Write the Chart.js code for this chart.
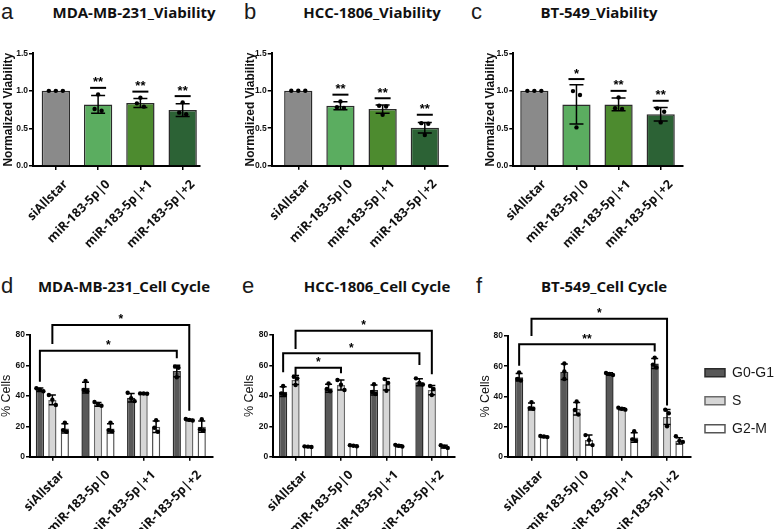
<!DOCTYPE html>
<html lang="en">
<head>
<meta charset="UTF-8">
<title>miR-183-5p isomiRs: viability and cell cycle</title>
<script src="https://cdn.jsdelivr.net/npm/chart.js"></script>
<style>
  body { margin: 0; background: #fff; width: 780px; height: 529px; position: relative; overflow: hidden; font-family: "Liberation Sans", Arial, sans-serif; }
  canvas { position: absolute; }
  .letter { position: absolute; font-size: 22px; line-height: 22px; color: #1a1a1a; }
  .title { position: absolute; font-family: "Open Sans", sans-serif; font-weight: 700; font-size: 15px; line-height: 15px; transform: translateX(-50%); white-space: nowrap; color: #111; }
</style>
</head>
<body>
<div class="letter" style="left:1px;top:1px">a</div>
<div class="letter" style="left:244px;top:1px">b</div>
<div class="letter" style="left:471px;top:1px">c</div>
<div class="letter" style="left:1px;top:275px">d</div>
<div class="letter" style="left:242px;top:275px">e</div>
<div class="letter" style="left:476px;top:275px">f</div>
<div class="title" style="left:134px;top:5px">MDA-MB-231_Viability</div>
<div class="title" style="left:372px;top:5px">HCC-1806_Viability</div>
<div class="title" style="left:599px;top:5px">BT-549_Viability</div>
<div class="title" style="left:124px;top:279px">MDA-MB-231_Cell Cycle</div>
<div class="title" style="left:377px;top:279px">HCC-1806_Cell Cycle</div>
<div class="title" style="left:604px;top:279px">BT-549_Cell Cycle</div>

<canvas id="mdaViab" width="245" height="262" style="left:0;top:0"></canvas>
<canvas id="hccViab" width="237" height="262" style="left:238px;top:0"></canvas>
<canvas id="btViab" width="222" height="262" style="left:478px;top:0"></canvas>
<canvas id="mdaCycle" width="240" height="267" style="left:0;top:262px"></canvas>
<canvas id="hccCycle" width="237" height="267" style="left:238px;top:262px"></canvas>
<canvas id="btCycle" width="310" height="267" style="left:475px;top:262px"></canvas>

<script>
const groups = ['siAllstar', 'miR-183-5p|0', 'miR-183-5p|+1', 'miR-183-5p|+2'];
const phases = ['G0-G1', 'S', 'G2-M'];

// viability: mean, SD, replicates, significance vs siAllstar
const mdaViab = [1.0, 0.82, 0.84, 0.745];
const mdaViabSd = [0, 0.117, 0.06, 0.085];
const mdaViabPts = [[1, 1, 1], [0.953, 0.758, 0.736], [0.91, 0.834, 0.79], [0.847, 0.71, 0.69]];
const mdaViabSig = ['', '**', '**', '**'];
const mdaViabSigY = [null, 1.04, 0.99, 0.93];

const hccViab = [1.0, 0.80, 0.756, 0.505];
const hccViabSd = [0, 0.055, 0.055, 0.07];
const hccViabPts = [[1, 1, 1], [0.858, 0.78, 0.77], [0.80, 0.79, 0.68], [0.568, 0.56, 0.41]];
const hccViabSig = ['', '**', '**', '**'];
const hccViabSigY = [null, 0.948, 0.90, 0.68];

const btViab = [1.0, 0.82, 0.82, 0.69];
const btViabSd = [0, 0.26, 0.085, 0.09];
const btViabPts = [[1, 1, 1], [0.997, 0.944, 0.514], [0.913, 0.77, 0.758], [0.767, 0.722, 0.58]];
const btViabSig = ['', '*', '**', '**'];
const btViabSigY = [null, 1.157, 1.0, 0.868];

// cell cycle (% cells): mean, SD, replicates per phase
const mdaG0 = [44, 45.4, 38.8, 56.3];
const mdaG0Sd = [1.2, 3.6, 2.8, 3.8];
const mdaG0Pts = [[45, 44, 43], [49.8, 43.8, 43.0], [42, 38.5, 36.5], [59.2, 58.5, 52.2]];
const mdaS = [37.3, 34.4, 41.5, 24.2];
const mdaSSd = [3.2, 1.3, 0.3, 0.5];
const mdaSPts = [[40.6, 37.5, 34], [36, 34.6, 33.5], [41.4, 41.6, 41.5], [24.8, 24.2, 23.8]];
const mdaG2 = [18.6, 18.6, 19.7, 19.7];
const mdaG2Sd = [3, 3, 3.8, 3.7];
const mdaG2Pts = [[22.4, 17.5, 16.4], [22.4, 17.5, 16.8], [24, 19, 16.4], [24.6, 18, 17.5]];
const mdaBrackets = [
  { from: [0, 0], to: [3, 0], y: 69.7, yFrom: 49.3, yTo: 64.7, label: '*' },
  { from: [0, 1], to: [3, 1], y: 86.6, yFrom: 74.1, yTo: 30.2, label: '*' }
];

const hccG0 = [42.7, 45, 43.8, 48.9];
const hccG0Sd = [3.2, 2.7, 3.3, 2.3];
const hccG0Pts = [[46.5, 41.5, 40.8], [48.2, 44.5, 43], [47.6, 42.5, 41.2], [51.5, 48.5, 47.5]];
const hccS = [50.4, 47.1, 47.6, 43.8];
const hccSSd = [2.9, 3.3, 3.8, 3];
const hccSPts = [[52.6, 51.5, 47.1], [50.4, 47.3, 43.8], [51, 48.5, 43.4], [46.5, 44.5, 40.6]];
const hccG2 = [6.6, 7.2, 7.2, 6.6];
const hccG2Sd = [0.3, 0.4, 0.6, 0.9];
const hccG2Pts = [[6.8, 6.6, 6.4], [7.6, 7.2, 6.9], [7.8, 7.2, 6.7], [7.6, 6.6, 5.8]];
const hccBrackets = [
  { from: [0, 1], to: [1, 1], y: 58.5, yFrom: 53.7, yTo: 54.8, label: '*' },
  { from: [0, 0], to: [3, 0], y: 68, yFrom: 55.5, yTo: 60.3, label: '*' },
  { from: [0, 1], to: [3, 1], y: 82.8, yFrom: 70.8, yTo: 54.2, label: '*' }
];

const btG0 = [52.6, 56.3, 54.8, 61.8];
const btG0Sd = [2.5, 5.1, 0.8, 3.3];
const btG0Pts = [[55.9, 51.5, 50.5], [61.8, 56.5, 51.5], [55.5, 54.8, 54.2], [65.7, 61, 59.2]];
const btS = [33.3, 31.8, 31.8, 26.3];
const btSSd = [2.3, 4.2, 0.7, 5];
const btSPts = [[36.2, 32.2, 31.8], [36.6, 31, 28], [32.5, 31.8, 31.2], [31.1, 28.8, 20.2]];
const btG2 = [13.2, 11, 12.7, 10.5];
const btG2Sd = [0.5, 3.3, 3.2, 2];
const btG2Pts = [[13.8, 13.4, 13.0], [14.3, 11, 7.7], [16.9, 11.5, 10.5], [13.6, 10.5, 9.8]];
const btBrackets = [
  { from: [0, 0], to: [3, 0], y: 74.6, yFrom: 60.3, yTo: 69.7, label: '**' },
  { from: [0, 1], to: [3, 1], y: 91.4, yFrom: 80, yTo: 34, label: '*' }
];

const viabColors = ['#8a8a8a', '#5bad60', '#4d8b2f', '#2c6235'];
const phaseFill = ['#585858', '#d6d6d6', '#ffffff'];
const phaseBorder = ['#2a2a2a', '#6a6a6a', '#555555'];

// error bars, replicate dots, significance stars and brackets
function marks(info) {
  return {
    id: 'marks',
    afterDatasetsDraw(chart) {
      const ctx = chart.ctx, y = chart.scales.y;
      ctx.save();
      ctx.strokeStyle = '#000';
      ctx.fillStyle = '#000';
      chart.data.datasets.forEach((ds, d) => {
        chart.getDatasetMeta(d).data.forEach((bar, i) => {
          const m = ds.data[i].y, s = info.sd[d][i];
          if (s > 0) {
            const t = y.getPixelForValue(m + s), b = y.getPixelForValue(m - s);
            ctx.lineWidth = 1.5;
            ctx.beginPath();
            ctx.moveTo(bar.x, t); ctx.lineTo(bar.x, b);
            ctx.moveTo(bar.x - info.cap, t); ctx.lineTo(bar.x + info.cap, t);
            ctx.moveTo(bar.x - info.cap, b); ctx.lineTo(bar.x + info.cap, b);
            ctx.stroke();
          }
          // dots that overlap are set side by side
          const py = info.pts[d][i].map(v => y.getPixelForValue(v)).sort((a, b) => a - b);
          let k = 0;
          while (k < py.length) {
            let j = k;
            while (j + 1 < py.length && py[j + 1] - py[j] < info.r * 2 + 1) j++;
            const n = j - k + 1;
            for (let q = k; q <= j; q++) {
              const dx = (q - k - (n - 1) / 2) * info.spread;
              ctx.beginPath();
              ctx.arc(bar.x + dx, py[q], info.r, 0, Math.PI * 2);
              ctx.fill();
            }
            k = j + 1;
          }
        });
      });
      if (info.sig) {
        const bars = chart.getDatasetMeta(0).data;
        ctx.font = 'bold 13px "Liberation Sans"';
        ctx.textAlign = 'center';
        ctx.textBaseline = 'alphabetic';
        info.sig.forEach((txt, i) => {
          if (!txt) return;
          const ly = y.getPixelForValue(info.sigY[i]);
          ctx.lineWidth = 2;
          ctx.beginPath();
          ctx.moveTo(bars[i].x - 8, ly); ctx.lineTo(bars[i].x + 8, ly);
          ctx.stroke();
          ctx.fillText(txt, bars[i].x, ly - 1.5);
        });
      }
      if (info.brackets) {
        ctx.font = 'bold 12px "Liberation Sans"';
        ctx.textAlign = 'center';
        ctx.textBaseline = 'alphabetic';
        ctx.lineWidth = 2;
        info.brackets.forEach(br => {
          const x1 = chart.getDatasetMeta(br.from[1]).data[br.from[0]].x;
          const x2 = chart.getDatasetMeta(br.to[1]).data[br.to[0]].x;
          const ly = y.getPixelForValue(br.y);
          ctx.beginPath();
          ctx.moveTo(x1, y.getPixelForValue(br.yFrom));
          ctx.lineTo(x1, ly); ctx.lineTo(x2, ly);
          ctx.lineTo(x2, y.getPixelForValue(br.yTo));
          ctx.stroke();
          ctx.fillText(br.label, (x1 + x2) / 2, ly - 1.5);
        });
      }
      ctx.restore();
    }
  };
}

function scales(lay, yOpts) {
  const line = { display: true, drawOnChartArea: false, drawTicks: true, tickLength: 4, color: '#000', lineWidth: 1.5, offset: false };
  return {
    x: {
      type: 'linear', bounds: 'data', min: lay.xmin, max: lay.xmax, z: 1, offset: false,
      afterBuildTicks: s => { s.ticks = groups.map((g, i) => ({ value: i })); },
      afterFit: s => { s.height = lay.xh; s.paddingLeft = 0; s.paddingRight = 0; },
      ticks: {
        callback: v => groups[v], minRotation: 45, maxRotation: 45, autoSkip: false,
        font: { family: 'Open Sans', weight: 'bold', size: 12.5 }, color: '#111', padding: 7, labelOffset: 10
      },
      grid: line,
      border: { display: true, color: '#000', width: 2 }
    },
    y: {
      min: 0, max: yOpts.max, z: 1,
      afterFit: s => { s.width = lay.yw; },
      ticks: {
        stepSize: yOpts.step, callback: yOpts.fmt,
        font: { family: 'Liberation Sans', weight: 'bold', size: 8.5 }, color: '#111', padding: 1
      },
      title: { display: true, text: yOpts.title, font: yOpts.titleFont, color: '#111', padding: 0 },
      grid: line,
      border: { display: true, color: '#000', width: 2 }
    }
  };
}

function viability(id, vals, sd, pts, sig, sigY, lay) {
  new Chart(document.getElementById(id), {
    type: 'bar',
    data: {
      datasets: [{
        data: vals.map((v, i) => ({ x: i, y: v })),
        backgroundColor: viabColors, borderColor: '#2b2b2b', borderWidth: 1.5,
        barPercentage: 0.67, categoryPercentage: 1
      }]
    },
    options: {
      responsive: false, animation: false,
      layout: { padding: lay.pad },
      plugins: { legend: { display: false }, tooltip: { enabled: false } },
      scales: scales(lay, {
        max: 1.5, step: 0.5, fmt: v => v.toFixed(1), title: 'Normalized Viability',
        titleFont: { family: 'Liberation Sans', weight: 'bold', size: 12, lineHeight: 1 }
      })
    },
    plugins: [marks({ sd: [sd], pts: [pts], r: 2.2, spread: 7, cap: 7, sig, sigY })]
  });
}

function cellCycle(id, vals, sd, pts, brackets, lay, showLegend) {
  new Chart(document.getElementById(id), {
    type: 'bar',
    data: {
      datasets: phases.map((p, d) => ({
        label: p,
        data: vals[d].map((v, i) => ({ x: i, y: v })),
        backgroundColor: phaseFill[d], borderColor: phaseBorder[d], borderWidth: 1.5,
        barPercentage: 0.66, categoryPercentage: 0.82
      }))
    },
    options: {
      responsive: false, animation: false,
      layout: { padding: lay.pad },
      plugins: {
        tooltip: { enabled: false },
        legend: {
          display: showLegend, position: 'right', fullSize: false, maxWidth: 100,
          title: { display: true, text: '', padding: 0, font: { size: 9, lineHeight: 1 } },
          labels: { boxWidth: 20, boxHeight: 8, padding: 14, color: '#1a1a1a', font: { family: 'Liberation Sans', size: 14 } }
        }
      },
      scales: scales(lay, {
        max: 80, step: 20, fmt: v => String(v), title: '% Cells',
        titleFont: { family: 'Liberation Sans', size: 12.5, lineHeight: 1 }
      })
    },
    plugins: [marks({ sd, pts, r: 2.2, spread: 3.5, cap: 3.5, brackets })]
  });
}

viability('mdaViab', mdaViab, mdaViabSd, mdaViabPts, mdaViabSig, mdaViabSigY,
  { pad: { left: 3, top: 53.3, right: 45, bottom: 0 }, yw: 30, xh: 96, xmin: -0.54, xmax: 3.41 });
viability('hccViab', hccViab, hccViabSd, hccViabPts, hccViabSig, hccViabSigY,
  { pad: { left: 7, top: 53.3, right: 27, bottom: 0 }, yw: 26.7, xh: 96.3, xmin: -0.63, xmax: 3.55 });
viability('btViab', btViab, btViabSd, btViabPts, btViabSig, btViabSigY,
  { pad: { left: 7, top: 53.3, right: 17, bottom: 0 }, yw: 28.3, xh: 96, xmin: -0.5, xmax: 3.53 });

cellCycle('mdaCycle', [mdaG0, mdaS, mdaG2], [mdaG0Sd, mdaSSd, mdaG2Sd], [mdaG0Pts, mdaSPts, mdaG2Pts], mdaBrackets,
  { pad: { left: 0, top: 73, right: 27, bottom: 0 }, yw: 30, xh: 72.3, xmin: -0.49, xmax: 3.52 }, false);
cellCycle('hccCycle', [hccG0, hccS, hccG2], [hccG0Sd, hccSSd, hccG2Sd], [hccG0Pts, hccSPts, hccG2Pts], hccBrackets,
  { pad: { left: 5, top: 73, right: 20, bottom: 0 }, yw: 30.3, xh: 72.3, xmin: -0.49, xmax: 3.51 }, false);
cellCycle('btCycle', [btG0, btS, btG2], [btG0Sd, btSSd, btG2Sd], [btG0Pts, btSPts, btG2Pts], btBrackets,
  { pad: { left: 4, top: 74, right: 1, bottom: 0 }, yw: 29, xh: 72.3, xmin: -0.52, xmax: 3.53 }, true);
</script>
</body>
</html>
